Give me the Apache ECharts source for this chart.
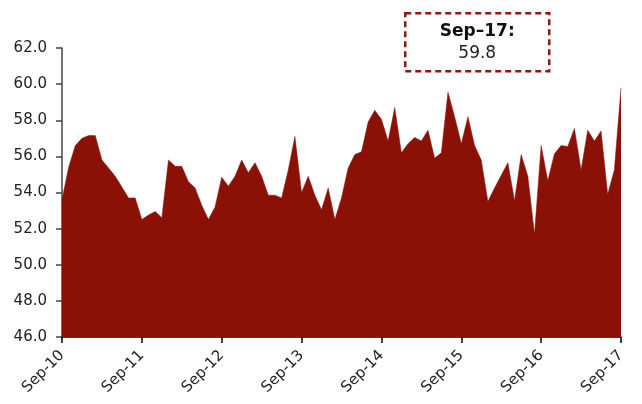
<!DOCTYPE html>
<html><head><meta charset="utf-8">
<script src="https://cdn.jsdelivr.net/npm/echarts@6/dist/echarts.min.js"></script>
<style>html,body{margin:0;padding:0;background:#fff}#c{width:642px;height:404px}</style>
</head><body><div id="c"></div>
<script>
var startYear = 2010, startMonth = 8; // Sep-10
var monthNames = ['Jan','Feb','Mar','Apr','May','Jun','Jul','Aug','Sep','Oct','Nov','Dec'];
var values = [53.6,55.4,56.6,57.0,57.15,57.15,55.8,55.35,54.9,54.3,53.7,53.7,52.5,52.75,52.95,52.6,
55.8,55.45,55.45,54.6,54.25,53.3,52.5,53.2,54.85,54.35,54.9,55.8,55.1,55.65,54.9,53.85,53.85,53.7,
55.25,57.1,54.0,54.9,53.85,53.05,54.25,52.5,53.7,55.35,56.1,56.25,57.9,58.55,58.05,56.85,58.7,56.2,
56.7,57.05,56.85,57.45,55.9,56.2,59.55,58.2,56.7,58.2,56.6,55.8,53.5,54.25,54.95,55.65,53.55,56.1,
54.9,51.7,56.6,54.65,56.15,56.6,56.55,57.55,55.25,57.45,56.85,57.4,53.9,55.25,59.8];
var categories = [];
for (var i = 0; i < values.length; i++) {
  var m = (startMonth + i) % 12, y = startYear + Math.floor((startMonth + i) / 12);
  categories.push(monthNames[m] + '-' + String(y).slice(2));
}
var calloutTitle = 'Sep\u201317:';
var calloutValue = '59.8';
var font = 'DejaVu Sans';
var red = '#8B1106';
var chart = echarts.init(document.getElementById('c'), null, {renderer:'canvas'});
chart.setOption({
  animation:false,
  grid:{left:62,right:21,top:48,bottom:67,containLabel:false},
  xAxis:{type:'category',data:categories,boundaryGap:false,
    axisLine:{lineStyle:{color:'#000',width:1.5}},
    axisTick:{interval:function(i){return i%12===0;},length:6,lineStyle:{color:'#000',width:1.5}},
    axisLabel:{interval:function(i){return i%12===0;},rotate:45,margin:16,color:'#222',fontFamily:font,fontSize:15}
  },
  yAxis:{type:'value',min:46,max:62,interval:2,
    axisLine:{show:true,lineStyle:{color:'#444',width:1.5}},
    axisTick:{show:true,inside:false,length:6,lineStyle:{color:'#444',width:1.5}},
    splitLine:{show:false},
    axisLabel:{formatter:function(v){return v.toFixed(1);},margin:15,color:'#222',fontFamily:font,fontSize:15}
  },
  series:[{type:'line',data:values,symbol:'none',lineStyle:{width:0.5,color:red},
    areaStyle:{color:red,opacity:1}}],
  graphic:[{type:'group',left:404,top:12,children:[
    {type:'rect',shape:{x:0,y:0,width:144,height:58},style:{fill:'#fff',stroke:'#8B1A12',lineWidth:2.5,lineDash:[6,4]}},
    {type:'text',x:72,y:10,style:{text:calloutTitle,font:'bold 17px "'+font+'"',fill:'#111',align:'center',verticalAlign:'top'}},
    {type:'text',x:72,y:32,style:{text:calloutValue,font:'17px "'+font+'"',fill:'#222',align:'center',verticalAlign:'top'}}
  ]}]
});
</script></body></html>
